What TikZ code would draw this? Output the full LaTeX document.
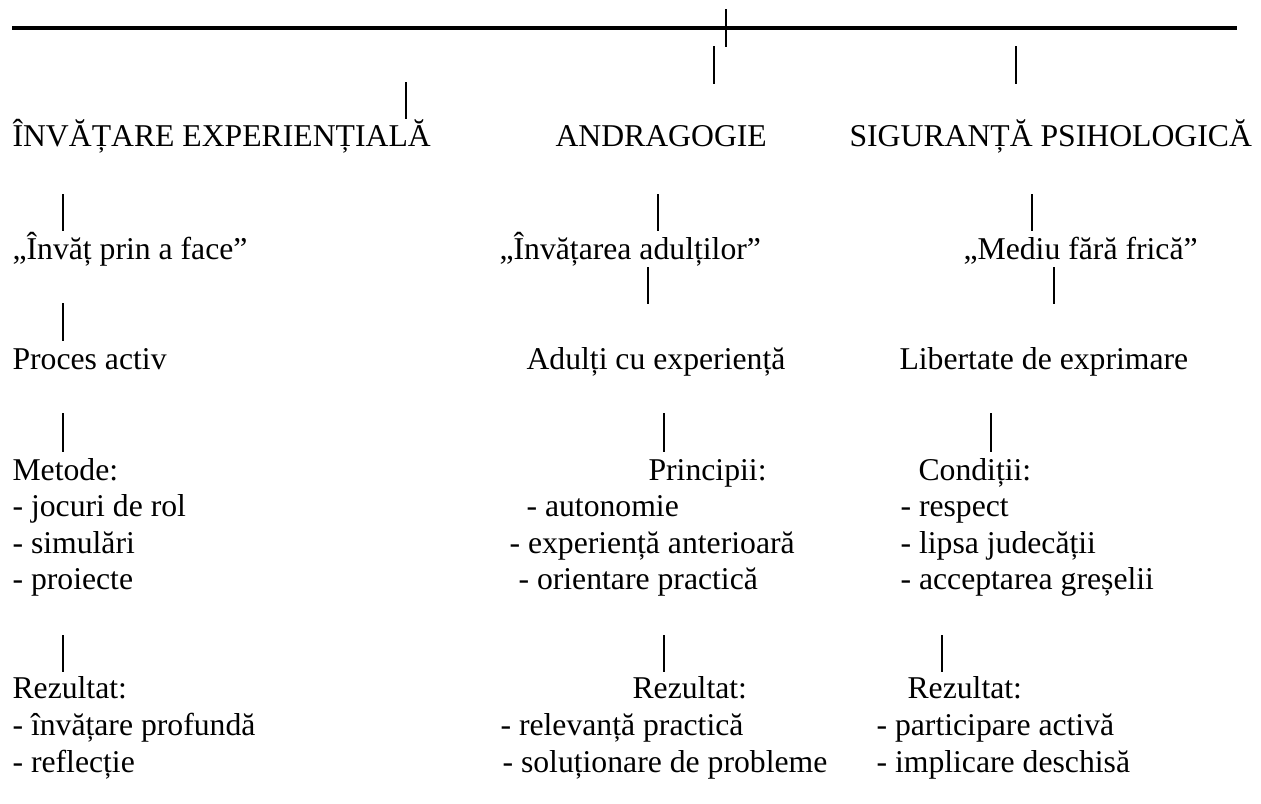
\documentclass[tikz,border=0pt]{standalone}
\usepackage{fontspec}
\setmainfont{Liberation Serif}
\usetikzlibrary{positioning}

\begin{document}
\begin{tikzpicture}[x=0.3785pt,y=-0.3785pt]
		\tikzstyle{txt}=[anchor=base west,inner sep=0pt,font=\fontsize{12}{14}\selectfont]
		\tikzstyle{bar}=[line width=1pt]
		\tikzstyle{rule}=[line width=1.3pt]
		
		\useasboundingbox (0,0) rectangle (1261,803);
		
		% top line with the tick
		\coordinate (ruleL) at (12,28);
		\coordinate (ruleR) at (1237,28);
		\coordinate (tickT) at (726,9);
		\coordinate (tickB) at (726,47);
		\draw[rule] (ruleL) -- (ruleR);
		\draw[bar] (tickT) -- (tickB);
		
		% titles
		\node[txt] (expTitle) at (12,146) {ÎNVĂȚARE EXPERIENȚIALĂ};
		\node[txt] (andTitle) at (555,146) {ANDRAGOGIE};
		\node[txt] (sigTitle) at (849,146) {SIGURANȚĂ PSIHOLOGICĂ};
		\draw[bar] (406,82) -- (406,119);
		\draw[bar] (714,46) -- (714,84);
		\draw[bar] (1016,46) -- (1016,84);
		
		% quotes
		\node[txt] (expQuote) at (12,259) {„Învăț prin a face”};
		\node[txt] (andQuote) at (499,259) {„Învățarea adulților”};
		\node[txt] (sigQuote) at (963,259) {„Mediu fără frică”};
		\draw[bar] (63,194) -- (63,231);
		\draw[bar] (658,194) -- (658,231);
		\draw[bar] (1032,194) -- (1032,231);
		
		% third row
		\node[txt] (expProc) at (12,369) {Proces activ};
		\node[txt] (andProc) at (526,369) {Adulți cu experiență};
		\node[txt] (sigProc) at (899,369) {Libertate de exprimare};
		\draw[bar] (63,303) -- (63,341);
		\draw[bar] (648,267) -- (648,304);
		\draw[bar] (1054,267) -- (1054,304);
		
		% methods, principles, conditions
		\node[txt] (expMeth) at (12,480) {Metode:};
		\node[txt] (expMethA) at (12,516) {- jocuri de rol};
		\node[txt] (expMethB) at (12,553) {- simulări};
		\node[txt] (expMethC) at (12,589) {- proiecte};
		\node[txt] (andPrin) at (648,480) {Principii:};
		\node[txt] (andPrinA) at (526,516) {- autonomie};
		\node[txt] (andPrinB) at (509,553) {- experiență anterioară};
		\node[txt] (andPrinC) at (518,589) {- orientare practică};
		\node[txt] (sigCond) at (918,480) {Condiții:};
		\node[txt] (sigCondA) at (900,516) {- respect};
		\node[txt] (sigCondB) at (900,553) {- lipsa judecății};
		\node[txt] (sigCondC) at (900,589) {- acceptarea greșelii};
		\draw[bar] (63,413) -- (63,452);
		\draw[bar] (664,413) -- (664,452);
		\draw[bar] (991,413) -- (991,452);
		
		% results
		\node[txt] (expRes) at (12,698) {Rezultat:};
		\node[txt] (expResA) at (12,735) {- învățare profundă};
		\node[txt] (expResB) at (12,772) {- reflecție};
		\node[txt] (andRes) at (632,698) {Rezultat:};
		\node[txt] (andResA) at (500,735) {- relevanță practică};
		\node[txt] (andResB) at (502,772) {- soluționare de probleme};
		\node[txt] (sigRes) at (907,698) {Rezultat:};
		\node[txt] (sigResA) at (876,735) {- participare activă};
		\node[txt] (sigResB) at (876,772) {- implicare deschisă};
		\draw[bar] (63,635) -- (63,672);
		\draw[bar] (664,635) -- (664,672);
		\draw[bar] (942,635) -- (942,672);
\end{tikzpicture}
\end{document}
